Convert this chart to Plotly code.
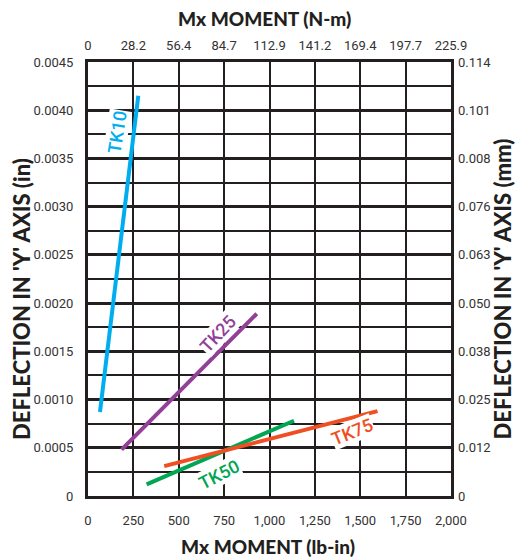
import plotly.graph_objects as go

# ---- data ----
lbin_ticks = [0, 250, 500, 750, 1000, 1250, 1500, 1750, 2000]
lbin_text = ["0", "250", "500", "750", "1,000", "1,250", "1,500", "1,750", "2,000"]
nm_text = ["0", "28.2", "56.4", "84.7", "112.9", "141.2", "169.4", "197.7", "225.9"]
in_ticks = [0, 0.0005, 0.0010, 0.0015, 0.0020, 0.0025, 0.0030, 0.0035, 0.0040, 0.0045]
in_text = ["0", "0.0005", "0.0010", "0.0015", "0.0020", "0.0025", "0.0030", "0.0035", "0.0040", "0.0045"]
mm_text = ["0", "0.012", "0.025", "0.038", "0.050", "0.063", "0.076", "0.008", "0.101", "0.114"]

series_names = ["TK10", "TK25", "TK50", "TK75"]
tk10_x = [66, 277]
tk10_y = [0.00087, 0.00415]
tk25_x = [185, 930]
tk25_y = [0.00048, 0.00189]
tk50_x = [323, 1135]
tk50_y = [0.00012, 0.00078]
tk75_x = [420, 1595]
tk75_y = [0.00031, 0.00088]

colors = ["#00aeef", "#923f98", "#00a651", "#f04e23"]
# label positions (data units) and angles
label_x = [160, 716, 722, 1460]
label_y = [0.00377, 0.00169, 0.000218, 0.000664]
label_angle = [-81, -47, -27, -22]

DARK = "#231f20"
TICKFONT = dict(family="Roboto, sans-serif", size=13, color="#333333")
HTITLE = dict(family="Lato, sans-serif", size=19, color=DARK, weight=900)
VTITLE = dict(family="Lato, sans-serif", size=22, color=DARK, weight=900)

fig = go.Figure()
xs = [tk10_x, tk25_x, tk50_x, tk75_x]
ys = [tk10_y, tk25_y, tk50_y, tk75_y]
for name, x, y, c in zip(series_names, xs, ys, colors):
    fig.add_trace(go.Scatter(x=x, y=y, mode="lines", name=name,
                             line=dict(color=c, width=4), showlegend=False,
                             hoverinfo="skip"))
# invisible trace to activate secondary axes
fig.add_trace(go.Scatter(x=[0], y=[0], xaxis="x2", yaxis="y2", mode="markers",
                         marker=dict(opacity=0), showlegend=False, hoverinfo="skip"))

for name, x, y, a, c in zip(series_names, label_x, label_y, label_angle, colors):
    fig.add_annotation(x=x, y=y, xref="x", yref="y", text=name, showarrow=False,
                       textangle=a, bgcolor="white", borderpad=0,
                       font=dict(family="Roboto, sans-serif", size=18, color=c, weight=500))

# axis titles
fig.add_annotation(text="Mx MOMENT (N-m)", xref="paper", yref="paper", x=0.486, y=1.101,
                   xanchor="center", yanchor="middle", showarrow=False, font=HTITLE)
fig.add_annotation(text="Mx MOMENT (lb-in)", xref="paper", yref="paper", x=0.4945, y=-0.1175,
                   xanchor="center", yanchor="middle", showarrow=False, font=HTITLE)
fig.add_annotation(text="DEFLECTION IN 'Y' AXIS (in)", xref="paper", yref="paper", x=-0.1818,
                   y=0.454, xanchor="center", yanchor="middle", textangle=-90,
                   showarrow=False, font=VTITLE)
fig.add_annotation(text="DEFLECTION IN 'Y' AXIS (mm)", xref="paper", yref="paper", x=1.143,
                   y=0.478, xanchor="center", yanchor="middle", textangle=-90,
                   showarrow=False, font=VTITLE)

fig.update_layout(
    width=517, height=560,
    margin=dict(l=88, r=66, t=62, b=64),
    paper_bgcolor="white", plot_bgcolor="white",
    xaxis=dict(range=[0, 2000], tickvals=lbin_ticks, ticktext=lbin_text, automargin=False,
               showgrid=True, gridcolor=DARK, gridwidth=1.8, zeroline=False,
               showline=True, linecolor=DARK, linewidth=3, mirror=True,
               ticks="", tickfont=TICKFONT, ticklabelstandoff=10),
    xaxis2=dict(range=[0, 2000], overlaying="x", side="top", tickvals=lbin_ticks,
                ticktext=nm_text, showgrid=False, zeroline=False, showline=False,
                automargin=False, ticks="", tickfont=TICKFONT, ticklabelstandoff=8),
    yaxis=dict(range=[0, 0.0045], tickvals=in_ticks, ticktext=in_text, automargin=False,
               showgrid=True, gridcolor=DARK, gridwidth=2.8, zeroline=False,
               showline=True, linecolor=DARK, linewidth=3, mirror=True,
               minor=dict(dtick=0.00025, showgrid=True, gridcolor=DARK, gridwidth=1.8),
               ticks="", tickfont=TICKFONT, ticklabelstandoff=9),
    yaxis2=dict(range=[0, 0.0045], overlaying="y", side="right", tickvals=in_ticks,
                ticktext=mm_text, showgrid=False, zeroline=False, showline=False,
                automargin=False, ticks="", tickfont=TICKFONT, ticklabelstandoff=6),
)

fig.write_html("out.html", config={"displayModeBar": False},
               post_script="document.body.style.margin='0px';document.body.style.padding='0px';")
